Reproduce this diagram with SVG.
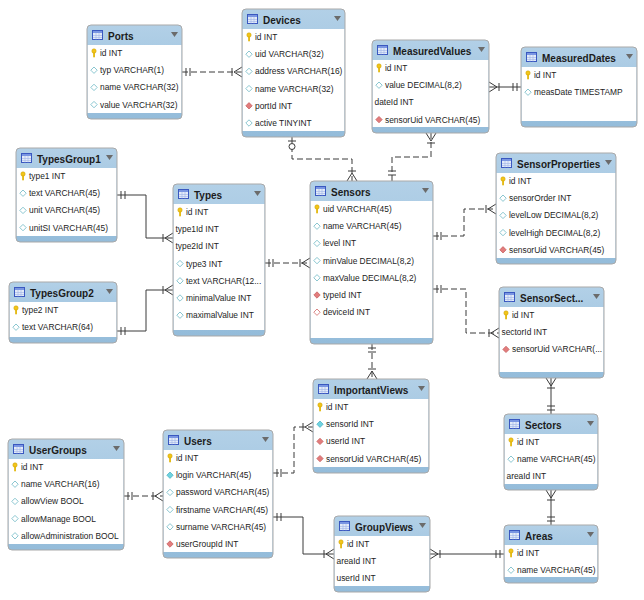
<svg xmlns="http://www.w3.org/2000/svg" xmlns:xlink="http://www.w3.org/1999/xlink" width="644" height="600" viewBox="0 0 644 600">
<style>
.bg{fill:url(#hg)}
.body{fill:#fff}
.out{fill:none;stroke:#a9a9a9;stroke-width:1}
.t{font-family:"Liberation Sans",Arial,sans-serif;font-weight:bold;font-size:10px;fill:#1c1c1c}
.r{font-family:"Liberation Sans",Arial,sans-serif;font-size:8.4px;fill:#1c1c1c}
.ln{fill:none;stroke:#3a3a3a;stroke-width:1}
.d{stroke-dasharray:6 3}
.mk{fill:none;stroke:#3a3a3a;stroke-width:1}
</style>
<defs>
<linearGradient id="hg" x1="0" y1="0" x2="0" y2="1">
<stop offset="0" stop-color="#b2d0e7"/>
<stop offset="1" stop-color="#94bcda"/>
</linearGradient>
<g id="tbl"><rect x="0.5" y="0.5" width="10" height="9" fill="#e3ebf8" stroke="#3a58c0"/><rect x="1" y="1" width="9" height="2" fill="#7a96e2"/><path d="M1 5.5H10M1 7.5H10M4 3V9.5M7 3V9.5" stroke="#9fb4e8" stroke-width="0.6"/></g>
<path id="tri" d="M0,0H7L3.5,5Z" fill="#6b6b6b"/>
<g id="key"><circle cx="0" cy="-2" r="2.2" fill="#f2c51a" stroke="#c99c00" stroke-width="0.5"/><rect x="-0.8" y="-0.3" width="1.7" height="4.6" fill="#e2b400"/></g>
<path id="col" d="M0,-3.2L3.2,0L0,3.2L-3.2,0Z" fill="#fff" stroke="#7dbfcb" stroke-width="0.9"/>
<path id="fk" d="M0,-3.2L3.2,0L0,3.2L-3.2,0Z" fill="#e27c7c" stroke="#c45a5a" stroke-width="0.7"/>
<path id="uq" d="M0,-3.2L3.2,0L0,3.2L-3.2,0Z" fill="#6fd2e0" stroke="#45b0c0" stroke-width="0.7"/>
<path id="fkn" d="M0,-3.2L3.2,0L0,3.2L-3.2,0Z" fill="#fff" stroke="#d67878" stroke-width="0.9"/>
</defs>
<rect width="644" height="600" fill="#fff"/>

<g id="connectors">
<path class="ln d" d="M182,72H242"/>
<path class="mk" d="M186,68v8M190,68v8M232,68v8M234,72L242,67M234,72L242,77"/>
<path class="ln d" d="M292,137V159H352V181"/>
<path class="mk" d="M288,141h8M348,171h8M352,173L347,181M352,173L357,181"/>
<circle cx="292" cy="146.5" r="3" fill="#fff" stroke="#3a3a3a"/>
<path class="ln d" d="M431,133V157H392V181"/>
<path class="mk" d="M431,141L426,133M431,141L436,133M427,143h8M388,171h8M388,175h8"/>
<path class="ln" d="M489,87H521"/>
<path class="mk" d="M497,87L489,82M497,87L489,92M499,83v8M513,83v8M517,83v8"/>
<path class="ln" d="M117,195H146V238H173"/>
<path class="mk" d="M121,191v8M125,191v8M163,234v8M165,238L173,233M165,238L173,243"/>
<path class="ln" d="M117,331H146V290H173"/>
<path class="mk" d="M121,327v8M125,327v8M163,286v8M165,290L173,285M165,290L173,295"/>
<path class="ln d" d="M265,263H310"/>
<path class="mk" d="M269,259v8M273,259v8M300,259v8M302,263L310,258M302,263L310,268"/>
<path class="ln d" d="M433,236H464V209H496"/>
<path class="mk" d="M437,232v8M441,232v8M486,205v8M488,209L496,204M488,209L496,214"/>
<path class="ln d" d="M433,289H466V333H499"/>
<path class="mk" d="M437,285v8M441,285v8M489,329v8M491,333L499,328M491,333L499,338"/>
<path class="ln d" d="M372,344V379"/>
<path class="mk" d="M368,348h8M368,352h8M368,369h8M372,371L367,379M372,371L377,379"/>
<path class="ln d" d="M273,473H294V427H313"/>
<path class="mk" d="M277,469v8M281,469v8M303,423v8M305,427L313,422M305,427L313,432"/>
<path class="ln d" d="M124,496H163"/>
<path class="mk" d="M128,492v8M132,492v8M153,492v8M155,496L163,491M155,496L163,501"/>
<path class="ln" d="M273,517H303V554H334"/>
<path class="mk" d="M277,513v8M281,513v8M324,550v8M326,554L334,549M326,554L334,559"/>
<path class="ln" d="M430,554H504"/>
<path class="mk" d="M438,554L430,549M438,554L430,559M440,550v8M496,550v8M500,550v8"/>
<path class="ln" d="M551,378V414"/>
<path class="mk" d="M551,386L546,378M551,386L556,378M547,388h8M547,406h8M547,410h8"/>
<path class="ln" d="M551,490V525"/>
<path class="mk" d="M551,498L546,490M551,498L556,490M547,500h8M547,517h8M547,521h8"/>
</g>

<g id="Ports" transform="translate(87,25)">
<rect class="bg" width="95" height="94" rx="4"/><rect class="body" x="0.5" y="20" width="94" height="68"/><rect class="out" width="95" height="94" rx="4"/>
<use href="#tbl" x="5" y="5"/><text class="t" x="21" y="15">Ports</text><use href="#tri" x="84" y="7"/>
<use href="#key" x="7" y="28"/><text class="r" x="13" y="31">id INT</text>
<use href="#col" x="7" y="45.2"/><text class="r" x="13" y="48.2">typ VARCHAR(1)</text>
<use href="#col" x="7" y="62.4"/><text class="r" x="13" y="65.4">name VARCHAR(32)</text>
<use href="#col" x="7" y="79.6"/><text class="r" x="13" y="82.6">value VARCHAR(32)</text>
</g>

<g id="Devices" transform="translate(242,9)">
<rect class="bg" width="103" height="128" rx="4"/><rect class="body" x="0.5" y="20" width="102" height="102"/><rect class="out" width="103" height="128" rx="4"/>
<use href="#tbl" x="5" y="5"/><text class="t" x="21" y="15">Devices</text><use href="#tri" x="92" y="7"/>
<use href="#key" x="7" y="28"/><text class="r" x="13" y="31">id INT</text>
<use href="#col" x="7" y="45.2"/><text class="r" x="13" y="48.2">uid VARCHAR(32)</text>
<use href="#col" x="7" y="62.4"/><text class="r" x="13" y="65.4">address VARCHAR(16)</text>
<use href="#col" x="7" y="79.6"/><text class="r" x="13" y="82.6">name VARCHAR(32)</text>
<use href="#fk" x="7" y="96.8"/><text class="r" x="13" y="99.8">portId INT</text>
<use href="#col" x="7" y="114"/><text class="r" x="13" y="117">active TINYINT</text>
</g>

<g id="MeasuredValues" transform="translate(372,40)">
<rect class="bg" width="117" height="93" rx="4"/><rect class="body" x="0.5" y="20" width="116" height="67"/><rect class="out" width="117" height="93" rx="4"/>
<use href="#tbl" x="5" y="5"/><text class="t" x="21" y="15">MeasuredValues</text><use href="#tri" x="106" y="7"/>
<use href="#key" x="7" y="28"/><text class="r" x="13" y="31">id INT</text>
<use href="#col" x="7" y="45.2"/><text class="r" x="13" y="48.2">value DECIMAL(8,2)</text>
<text class="r" x="2.5" y="65.4">dateId INT</text>
<use href="#fk" x="7" y="79.6"/><text class="r" x="13" y="82.6">sensorUid VARCHAR(45)</text>
</g>

<g id="MeasuredDates" transform="translate(521,47)">
<rect class="bg" width="116" height="80" rx="4"/><rect class="body" x="0.5" y="20" width="115" height="54"/><rect class="out" width="116" height="80" rx="4"/>
<use href="#tbl" x="5" y="5"/><text class="t" x="21" y="15">MeasuredDates</text><use href="#tri" x="105" y="7"/>
<use href="#key" x="7" y="28"/><text class="r" x="13" y="31">id INT</text>
<use href="#col" x="7" y="45.2"/><text class="r" x="13" y="48.2">measDate TIMESTAMP</text>
</g>

<g id="TypesGroup1" transform="translate(16,148)">
<rect class="bg" width="101" height="94" rx="4"/><rect class="body" x="0.5" y="20" width="100" height="68"/><rect class="out" width="101" height="94" rx="4"/>
<use href="#tbl" x="5" y="5"/><text class="t" x="21" y="15">TypesGroup1</text><use href="#tri" x="90" y="7"/>
<use href="#key" x="7" y="28"/><text class="r" x="13" y="31">type1 INT</text>
<use href="#col" x="7" y="45.2"/><text class="r" x="13" y="48.2">text VARCHAR(45)</text>
<use href="#col" x="7" y="62.4"/><text class="r" x="13" y="65.4">unit VARCHAR(45)</text>
<use href="#col" x="7" y="79.6"/><text class="r" x="13" y="82.6">unitSI VARCHAR(45)</text>
</g>

<g id="TypesGroup2" transform="translate(9,282)">
<rect class="bg" width="108" height="61" rx="4"/><rect class="body" x="0.5" y="20" width="107" height="35"/><rect class="out" width="108" height="61" rx="4"/>
<use href="#tbl" x="5" y="5"/><text class="t" x="21" y="15">TypesGroup2</text><use href="#tri" x="97" y="7"/>
<use href="#key" x="7" y="28"/><text class="r" x="13" y="31">type2 INT</text>
<use href="#col" x="7" y="45.2"/><text class="r" x="13" y="48.2">text VARCHAR(64)</text>
</g>

<g id="Types" transform="translate(173,184)">
<rect class="bg" width="92" height="152" rx="4"/><rect class="body" x="0.5" y="20" width="91" height="126"/><rect class="out" width="92" height="152" rx="4"/>
<use href="#tbl" x="5" y="5"/><text class="t" x="21" y="15">Types</text><use href="#tri" x="81" y="7"/>
<use href="#key" x="7" y="28"/><text class="r" x="13" y="31">id INT</text>
<text class="r" x="2.5" y="48.2">type1Id INT</text>
<text class="r" x="2.5" y="65.4">type2Id INT</text>
<use href="#col" x="7" y="79.6"/><text class="r" x="13" y="82.6">type3 INT</text>
<use href="#col" x="7" y="96.8"/><text class="r" x="13" y="99.8">text VARCHAR(12...</text>
<use href="#col" x="7" y="114"/><text class="r" x="13" y="117">minimalValue INT</text>
<use href="#col" x="7" y="131.2"/><text class="r" x="13" y="134.2">maximalValue INT</text>
</g>

<g id="Sensors" transform="translate(310,181)">
<rect class="bg" width="123" height="163" rx="4"/><rect class="body" x="0.5" y="20" width="122" height="137"/><rect class="out" width="123" height="163" rx="4"/>
<use href="#tbl" x="5" y="5"/><text class="t" x="21" y="15">Sensors</text><use href="#tri" x="112" y="7"/>
<use href="#key" x="7" y="28"/><text class="r" x="13" y="31">uid VARCHAR(45)</text>
<use href="#col" x="7" y="45.2"/><text class="r" x="13" y="48.2">name VARCHAR(45)</text>
<use href="#col" x="7" y="62.4"/><text class="r" x="13" y="65.4">level INT</text>
<use href="#col" x="7" y="79.6"/><text class="r" x="13" y="82.6">minValue DECIMAL(8,2)</text>
<use href="#col" x="7" y="96.8"/><text class="r" x="13" y="99.8">maxValue DECIMAL(8,2)</text>
<use href="#fk" x="7" y="114"/><text class="r" x="13" y="117">typeId INT</text>
<use href="#fkn" x="7" y="131.2"/><text class="r" x="13" y="134.2">deviceId INT</text>
</g>

<g id="SensorProperties" transform="translate(496,153)">
<rect class="bg" width="120" height="111" rx="4"/><rect class="body" x="0.5" y="20" width="119" height="85"/><rect class="out" width="120" height="111" rx="4"/>
<use href="#tbl" x="5" y="5"/><text class="t" x="21" y="15">SensorProperties</text><use href="#tri" x="109" y="7"/>
<use href="#key" x="7" y="28"/><text class="r" x="13" y="31">id INT</text>
<use href="#col" x="7" y="45.2"/><text class="r" x="13" y="48.2">sensorOrder INT</text>
<use href="#col" x="7" y="62.4"/><text class="r" x="13" y="65.4">levelLow DECIMAL(8,2)</text>
<use href="#col" x="7" y="79.6"/><text class="r" x="13" y="82.6">levelHigh DECIMAL(8,2)</text>
<use href="#fk" x="7" y="96.8"/><text class="r" x="13" y="99.8">sensorUid VARCHAR(45)</text>
</g>

<g id="SensorSectors" transform="translate(499,287)">
<rect class="bg" width="105" height="91" rx="4"/><rect class="body" x="0.5" y="20" width="104" height="65"/><rect class="out" width="105" height="91" rx="4"/>
<use href="#tbl" x="5" y="5"/><text class="t" x="21" y="15">SensorSect...</text><use href="#tri" x="94" y="7"/>
<use href="#key" x="7" y="28"/><text class="r" x="13" y="31">id INT</text>
<text class="r" x="2.5" y="48.2">sectorId INT</text>
<use href="#fk" x="7" y="62.4"/><text class="r" x="13" y="65.4">sensorUid VARCHAR(...</text>
</g>

<g id="ImportantViews" transform="translate(313,379)">
<rect class="bg" width="116" height="94" rx="4"/><rect class="body" x="0.5" y="20" width="115" height="68"/><rect class="out" width="116" height="94" rx="4"/>
<use href="#tbl" x="5" y="5"/><text class="t" x="21" y="15">ImportantViews</text><use href="#tri" x="105" y="7"/>
<use href="#key" x="7" y="28"/><text class="r" x="13" y="31">id INT</text>
<use href="#uq" x="7" y="45.2"/><text class="r" x="13" y="48.2">sensorId INT</text>
<use href="#fk" x="7" y="62.4"/><text class="r" x="13" y="65.4">userId INT</text>
<use href="#fk" x="7" y="79.6"/><text class="r" x="13" y="82.6">sensorUid VARCHAR(45)</text>
</g>

<g id="Sectors" transform="translate(504,414)">
<rect class="bg" width="94" height="76" rx="4"/><rect class="body" x="0.5" y="20" width="93" height="50"/><rect class="out" width="94" height="76" rx="4"/>
<use href="#tbl" x="5" y="5"/><text class="t" x="21" y="15">Sectors</text><use href="#tri" x="83" y="7"/>
<use href="#key" x="7" y="28"/><text class="r" x="13" y="31">id INT</text>
<use href="#col" x="7" y="45.2"/><text class="r" x="13" y="48.2">name VARCHAR(45)</text>
<text class="r" x="2.5" y="65.4">areaId INT</text>
</g>

<g id="Areas" transform="translate(504,525)">
<rect class="bg" width="94" height="58" rx="4"/><rect class="body" x="0.5" y="20" width="93" height="32"/><rect class="out" width="94" height="58" rx="4"/>
<use href="#tbl" x="5" y="5"/><text class="t" x="21" y="15">Areas</text><use href="#tri" x="83" y="7"/>
<use href="#key" x="7" y="28"/><text class="r" x="13" y="31">id INT</text>
<use href="#col" x="7" y="45.2"/><text class="r" x="13" y="48.2">name VARCHAR(45)</text>
</g>

<g id="GroupViews" transform="translate(334,516)">
<rect class="bg" width="96" height="76" rx="4"/><rect class="body" x="0.5" y="20" width="95" height="50"/><rect class="out" width="96" height="76" rx="4"/>
<use href="#tbl" x="5" y="5"/><text class="t" x="21" y="15">GroupViews</text><use href="#tri" x="85" y="7"/>
<use href="#key" x="7" y="28"/><text class="r" x="13" y="31">id INT</text>
<text class="r" x="2.5" y="48.2">areaId INT</text>
<text class="r" x="2.5" y="65.4">userId INT</text>
</g>

<g id="UserGroups" transform="translate(8,439)">
<rect class="bg" width="116" height="111" rx="4"/><rect class="body" x="0.5" y="20" width="115" height="85"/><rect class="out" width="116" height="111" rx="4"/>
<use href="#tbl" x="5" y="5"/><text class="t" x="21" y="15">UserGroups</text><use href="#tri" x="105" y="7"/>
<use href="#key" x="7" y="28"/><text class="r" x="13" y="31">id INT</text>
<use href="#col" x="7" y="45.2"/><text class="r" x="13" y="48.2">name VARCHAR(16)</text>
<use href="#col" x="7" y="62.4"/><text class="r" x="13" y="65.4">allowView BOOL</text>
<use href="#col" x="7" y="79.6"/><text class="r" x="13" y="82.6">allowManage BOOL</text>
<use href="#col" x="7" y="96.8"/><text class="r" x="13" y="99.8">allowAdministration BOOL</text>
</g>

<g id="Users" transform="translate(163,430)">
<rect class="bg" width="110" height="128" rx="4"/><rect class="body" x="0.5" y="20" width="109" height="102"/><rect class="out" width="110" height="128" rx="4"/>
<use href="#tbl" x="5" y="5"/><text class="t" x="21" y="15">Users</text><use href="#tri" x="99" y="7"/>
<use href="#key" x="7" y="28"/><text class="r" x="13" y="31">id INT</text>
<use href="#uq" x="7" y="45.2"/><text class="r" x="13" y="48.2">login VARCHAR(45)</text>
<use href="#col" x="7" y="62.4"/><text class="r" x="13" y="65.4">password VARCHAR(45)</text>
<use href="#col" x="7" y="79.6"/><text class="r" x="13" y="82.6">firstname VARCHAR(45)</text>
<use href="#col" x="7" y="96.8"/><text class="r" x="13" y="99.8">surname VARCHAR(45)</text>
<use href="#fk" x="7" y="114"/><text class="r" x="13" y="117">userGroupId INT</text>
</g>
</svg>
